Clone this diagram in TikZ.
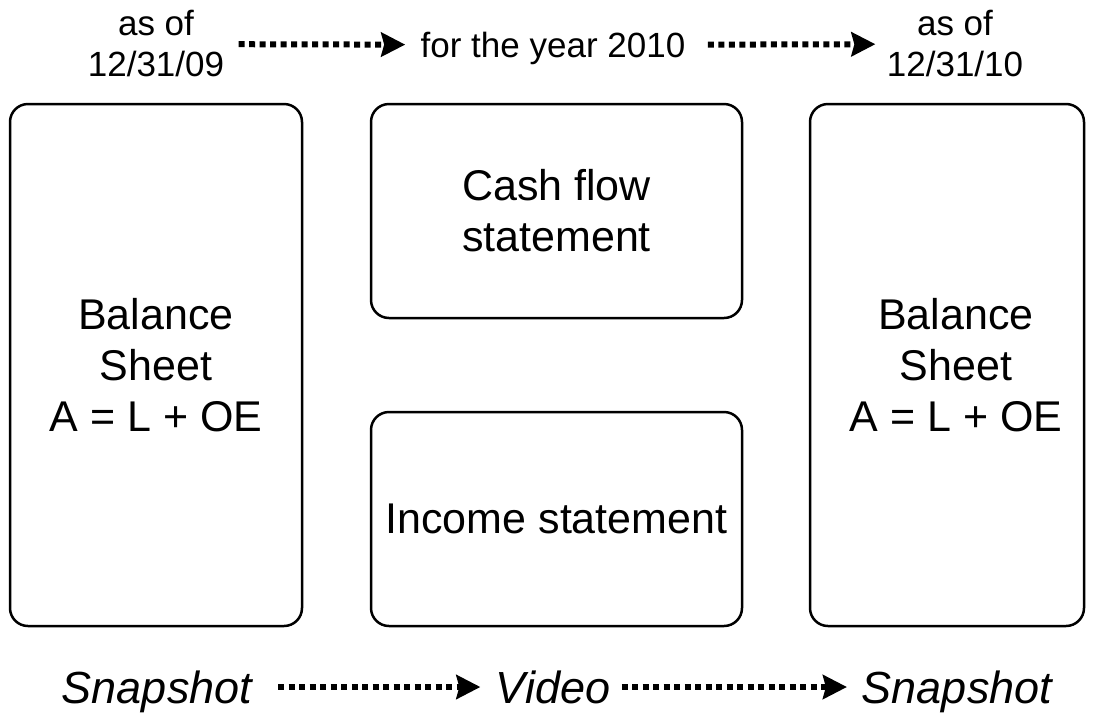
\documentclass[tikz,border=0pt]{standalone}
\usepackage{fontspec}
\setmainfont{Liberation Sans}
\usetikzlibrary{arrows.meta,positioning}

\begin{document}
\begin{tikzpicture}[x=1pt,y=-1pt]
		\useasboundingbox (0,0) rectangle (1094,713);
		% statements
		\begin{scope}[every node/.style={draw,line width=2.5pt,rounded corners=18pt,align=center,font=\fontsize{43}{51}\selectfont}]
			\node[minimum width=292pt,minimum height=522pt] (bsa) at (156,365) {Balance\\Sheet\\A = L + OE};
			\node[minimum width=371pt,minimum height=214pt] (cfs) at (556.5,211) {Cash flow\\statement};
			\node[minimum width=371pt,minimum height=214pt] (inc) at (556.5,519) {Income statement};
			\node[minimum width=274pt,minimum height=522pt] (bsb) at (947,365) {};
		\end{scope}
		\node[align=center,font=\fontsize{43}{51}\selectfont] (bsbtext) at (956,365) {Balance\\Sheet\\A = L + OE};

		% dates and labels
		\begin{scope}[every node/.style={inner sep=0pt,outer sep=0pt,align=center,font=\fontsize{35}{41}\selectfont}]
			\node (asa) at (156,44) {as of\\12/31/09};
			\node[text height=25pt,text depth=0pt] (year) at (553,45) {for the year 2010};
			\node (asb) at (955,44) {as of\\12/31/10};
		\end{scope}
		\begin{scope}[every node/.style={inner sep=0pt,outer sep=0pt,text height=32pt,text depth=0pt,font=\fontsize{45}{50}\selectfont\itshape}]
			\node (snapa) at (157,687) {Snapshot};
			\node (video) at (553,687) {Video};
			\node (snapb) at (957,687) {Snapshot};
		\end{scope}

		\begin{scope}[line width=6pt,dash pattern=on 6pt off 4.5pt,>={Stealth[length=24pt,width=24pt,inset=3pt]}]
			\path (asa) edge[->,shorten <=14.5pt,shorten >=15.5pt] (year);
			\path (year) edge[->,shorten <=22.5pt,shorten >=11.5pt] (asb);

			\path (snapa) edge[->,shorten <=26pt,shorten >=15.5pt] (video);
			\path (video) edge[->,shorten <=11.5pt,shorten >=15pt] (snapb);
		\end{scope}
	\end{tikzpicture}
\end{document}
